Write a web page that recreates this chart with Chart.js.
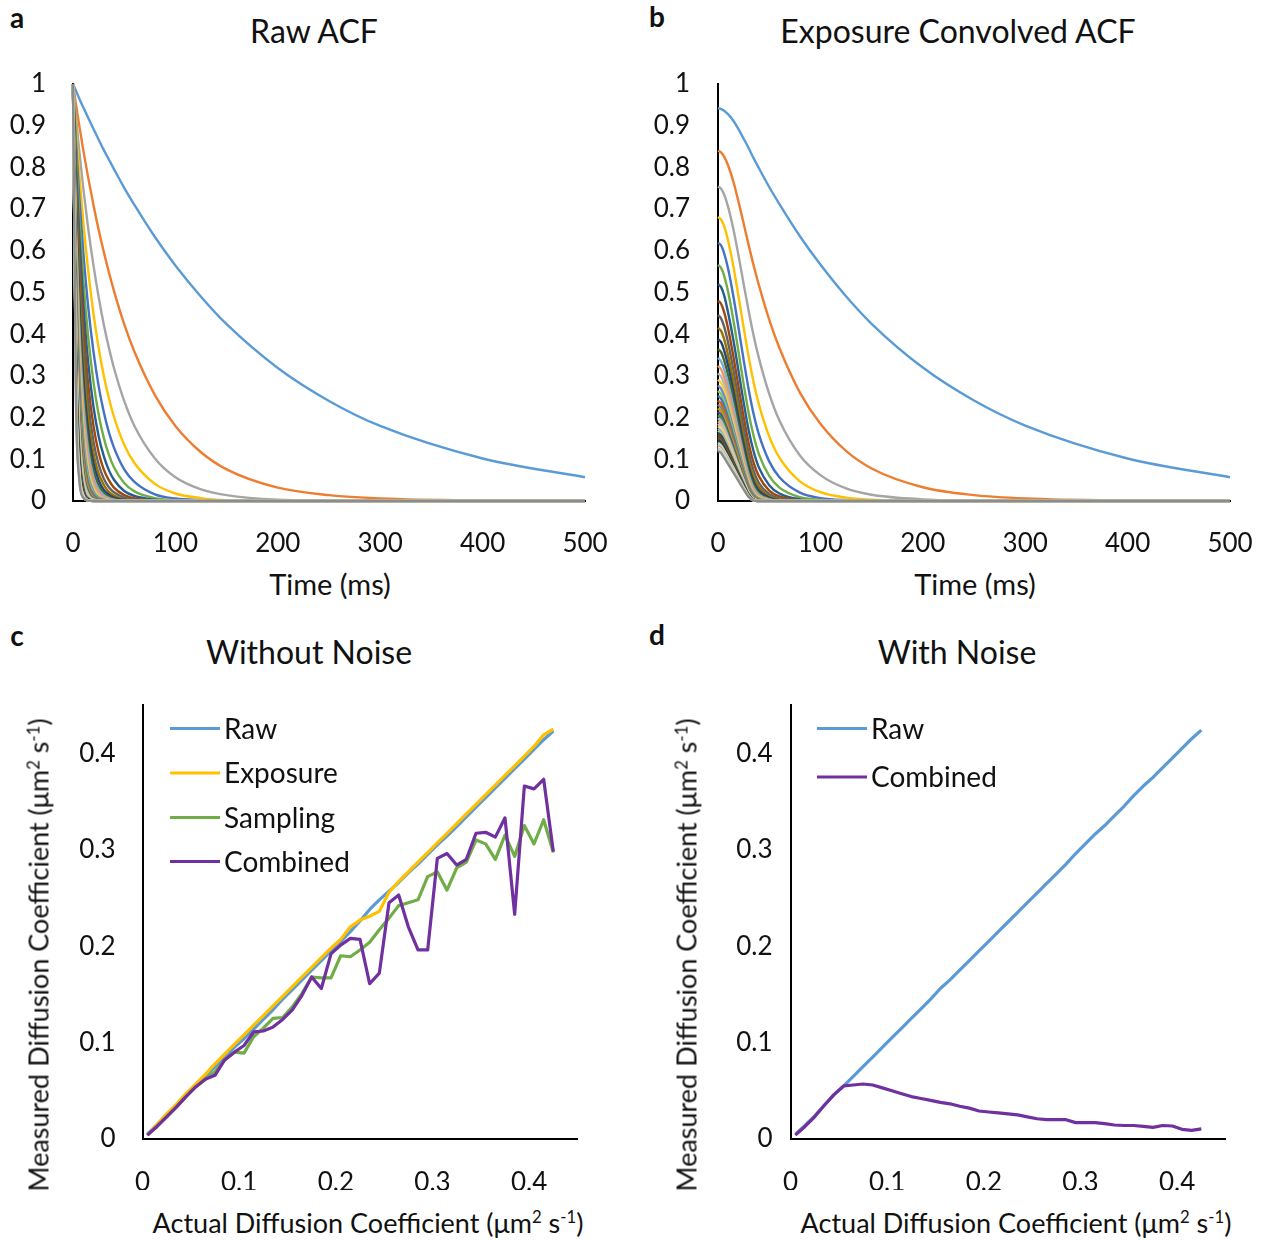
<!DOCTYPE html>
<html><head><meta charset="utf-8">
<script src="https://cdn.jsdelivr.net/npm/chart.js@4.4.1/dist/chart.umd.min.js"></script>
<style>
html,body{margin:0;padding:0;background:#fff;width:1264px;height:1240px;overflow:hidden;font-family:Lato,"Open Sans",sans-serif;color:#111}
canvas{position:absolute}
.t{position:absolute;white-space:nowrap;transform:translate(-50%,-50%);line-height:1;z-index:2}
.t sup{font-size:0.62em;vertical-align:0.55em;line-height:0}
.ttl{font-size:32px}
.ax{font-size:27px}
.tm{font-size:29px}
.let{font-size:28px;font-weight:bold}
.rot{transform:translate(-50%,-50%) rotate(-90deg)}
</style></head><body>
<canvas id="ca" width="620" height="500" style="left:0;top:60px"></canvas>
<canvas id="cb" width="620" height="500" style="left:640px;top:60px"></canvas>
<canvas id="cc" width="620" height="510" style="left:0;top:680px"></canvas>
<canvas id="cd" width="620" height="510" style="left:640px;top:680px"></canvas>

<div class="t let" style="left:17px;top:17px">a</div>
<div class="t let" style="left:657px;top:16px">b</div>
<div class="t let" style="left:17px;top:635px">c</div>
<div class="t let" style="left:657px;top:634px">d</div>
<div class="t ttl" style="left:314px;top:31px">Raw ACF</div>
<div class="t ttl" style="left:958px;top:31px">Exposure Convolved ACF</div>
<div class="t ttl" style="left:309px;top:652px">Without Noise</div>
<div class="t ttl" style="left:957px;top:652px">With Noise</div>
<div class="t tm" style="left:330px;top:583px">Time (ms)</div>
<div class="t tm" style="left:975px;top:583px">Time (ms)</div>
<div class="t ax" style="left:368px;top:1222px">Actual Diffusion Coefficient (μm<sup>2</sup> s<sup>-1</sup>)</div>
<div class="t ax" style="left:1016px;top:1222px">Actual Diffusion Coefficient (μm<sup>2</sup> s<sup>-1</sup>)</div>
<div class="t ax rot" style="left:38px;top:955px">Measured Diffusion Coefficient (μm<sup>2</sup> s<sup>-1</sup>)</div>
<div class="t ax rot" style="left:686px;top:955px">Measured Diffusion Coefficient (μm<sup>2</sup> s<sup>-1</sup>)</div>

<script>
// ---------- data ----------
const acfTimes = [0,3,6,10,15,20,25,30,35,40,50,60,80,100,125,150,200,250,300,400,500];
const acfTimeTicks = [0,100,200,300,400,500];
const acfValueTicks = [0,0.1,0.2,0.3,0.4,0.5,0.6,0.7,0.8,0.9,1];
const diffTicks = [0,0.1,0.2,0.3,0.4];

const actualD = [0.005,0.015,0.025,0.035,0.045,0.055,0.065,0.075,0.085,0.095,
  0.105,0.115,0.125,0.135,0.145,0.155,0.165,0.175,0.185,0.195,
  0.205,0.215,0.225,0.235,0.245,0.255,0.265,0.275,0.285,0.295,
  0.305,0.315,0.325,0.335,0.345,0.355,0.365,0.375,0.385,0.395,
  0.405,0.415,0.425];

// Raw ACF, one row per simulated diffusion coefficient
const rawAcf = [
 [1,.983,.966,.944,.918,.892,.867,.842,.819,.796,.751,.710,.633,.565,.490,.424,.319,.240,.180,.102,.057],
 [1,.950,.902,.842,.773,.710,.651,.598,.549,.504,.424,.358,.254,.180,.117,.076,.032,.014,.006,.001,0],
 [1,.918,.842,.751,.651,.565,.490,.424,.368,.319,.240,.180,.102,.057,.028,.014,.003,.001,0,0,0],
 [1,.887,.787,.670,.549,.449,.368,.301,.247,.202,.135,.091,.041,.018,.007,.002,0,0,0,0,0],
 [1,.857,.734,.598,.462,.358,.276,.214,.165,.128,.076,.046,.016,.006,.002,0,0,0,0,0,0],
 [1,.828,.686,.533,.390,.285,.208,.152,.111,.081,.043,.023,.007,.002,0,0,0,0,0,0,0],
 [1,.800,.640,.476,.328,.226,.156,.108,.074,.051,.024,.012,.003,0,0,0,0,0,0,0,0],
 [1,.773,.598,.424,.276,.180,.117,.076,.050,.032,.014,.006,.001,0,0,0,0,0,0,0,0],
 [1,.747,.558,.379,.233,.143,.088,.054,.033,.021,.008,.003,0,0,0,0,0,0,0,0,0],
 [1,.722,.521,.338,.196,.114,.066,.039,.022,.013,.004,.002,0,0,0,0,0,0,0,0,0],
 [1,.698,.487,.301,.165,.091,.050,.027,.015,.008,.003,0,0,0,0,0,0,0,0,0,0],
 [1,.674,.454,.269,.139,.072,.037,.019,.010,.005,.001,0,0,0,0,0,0,0,0,0,0],
 [1,.651,.424,.240,.117,.057,.028,.014,.007,.003,0,0,0,0,0,0,0,0,0,0,0],
 [1,.629,.396,.214,.099,.046,.021,.010,.005,.002,0,0,0,0,0,0,0,0,0,0,0],
 [1,.608,.370,.191,.083,.036,.016,.007,.003,.001,0,0,0,0,0,0,0,0,0,0,0],
 [1,.588,.345,.170,.070,.029,.012,.005,.002,0,0,0,0,0,0,0,0,0,0,0,0],
 [1,.568,.323,.152,.059,.023,.009,.004,.001,0,0,0,0,0,0,0,0,0,0,0,0],
 [1,.549,.301,.135,.050,.018,.007,.002,.001,0,0,0,0,0,0,0,0,0,0,0,0],
 [1,.530,.281,.121,.042,.015,.005,.002,0,0,0,0,0,0,0,0,0,0,0,0,0],
 [1,.512,.263,.108,.035,.012,.004,.001,0,0,0,0,0,0,0,0,0,0,0,0,0],
 [1,.495,.245,.096,.030,.009,.003,.001,0,0,0,0,0,0,0,0,0,0,0,0,0],
 [1,.479,.229,.086,.025,.007,.002,0,0,0,0,0,0,0,0,0,0,0,0,0,0],
 [1,.462,.214,.076,.021,.006,.002,0,0,0,0,0,0,0,0,0,0,0,0,0,0],
 [1,.447,.200,.068,.018,.005,.001,0,0,0,0,0,0,0,0,0,0,0,0,0,0],
 [1,.432,.186,.061,.015,.004,.001,0,0,0,0,0,0,0,0,0,0,0,0,0,0],
 [1,.417,.174,.054,.013,.003,.001,0,0,0,0,0,0,0,0,0,0,0,0,0,0],
 [1,.403,.162,.048,.011,.003,0,0,0,0,0,0,0,0,0,0,0,0,0,0,0],
 [1,.390,.152,.043,.009,.002,0,0,0,0,0,0,0,0,0,0,0,0,0,0,0],
 [1,.376,.142,.039,.008,.002,0,0,0,0,0,0,0,0,0,0,0,0,0,0,0],
 [1,.364,.132,.034,.006,.001,0,0,0,0,0,0,0,0,0,0,0,0,0,0,0],
 [1,.351,.124,.031,.005,.001,0,0,0,0,0,0,0,0,0,0,0,0,0,0,0],
 [1,.340,.115,.027,.005,.001,0,0,0,0,0,0,0,0,0,0,0,0,0,0,0],
 [1,.328,.108,.024,.004,0,0,0,0,0,0,0,0,0,0,0,0,0,0,0,0],
 [1,.317,.101,.022,.003,0,0,0,0,0,0,0,0,0,0,0,0,0,0,0,0],
 [1,.306,.094,.019,.003,0,0,0,0,0,0,0,0,0,0,0,0,0,0,0,0],
 [1,.296,.088,.017,.002,0,0,0,0,0,0,0,0,0,0,0,0,0,0,0,0],
 [1,.286,.082,.015,.002,0,0,0,0,0,0,0,0,0,0,0,0,0,0,0,0],
 [1,.276,.076,.014,.002,0,0,0,0,0,0,0,0,0,0,0,0,0,0,0,0],
 [1,.267,.071,.012,.001,0,0,0,0,0,0,0,0,0,0,0,0,0,0,0,0],
 [1,.258,.067,.011,.001,0,0,0,0,0,0,0,0,0,0,0,0,0,0,0,0],
 [1,.249,.062,.010,.001,0,0,0,0,0,0,0,0,0,0,0,0,0,0,0,0],
 [1,.241,.058,.009,.001,0,0,0,0,0,0,0,0,0,0,0,0,0,0,0,0],
 [1,.233,.054,.008,.001,0,0,0,0,0,0,0,0,0,0,0,0,0,0,0,0]
];

// Exposure-convolved ACF, same rows
const convAcf = [
 [.942,.940,.936,.927,.912,.892,.869,.846,.821,.798,.753,.712,.635,.567,.491,.425,.320,.241,.181,.102,.057],
 [.840,.836,.826,.804,.766,.718,.666,.613,.563,.517,.435,.367,.260,.185,.120,.078,.033,.014,.006,.001,0],
 [.754,.749,.735,.704,.652,.589,.521,.455,.394,.342,.257,.193,.109,.062,.030,.015,.004,.001,0,0,0],
 [.681,.675,.659,.623,.563,.491,.417,.345,.282,.231,.155,.104,.047,.021,.008,.003,0,0,0,0,0],
 [.619,.613,.594,.556,.491,.416,.339,.267,.206,.159,.095,.057,.020,.007,.002,.001,0,0,0,0,0],
 [.566,.559,.540,.500,.434,.358,.281,.210,.154,.112,.060,.032,.009,.003,.001,0,0,0,0,0,0],
 [.520,.513,.493,.450,.386,.312,.237,.169,.117,.080,.038,.018,.004,.001,0,0,0,0,0,0,0],
 [.480,.473,.453,.412,.347,.275,.202,.138,.090,.059,.025,.011,.002,0,0,0,0,0,0,0,0],
 [.446,.438,.418,.378,.315,.245,.175,.115,.071,.043,.016,.006,.001,0,0,0,0,0,0,0,0],
 [.415,.408,.388,.348,.287,.220,.154,.096,.056,.033,.011,.004,0,0,0,0,0,0,0,0,0],
 [.388,.381,.361,.323,.263,.199,.137,.082,.045,.025,.008,.002,0,0,0,0,0,0,0,0,0],
 [.364,.357,.337,.300,.243,.182,.122,.071,.037,.019,.005,.001,0,0,0,0,0,0,0,0,0],
 [.343,.335,.316,.280,.226,.167,.111,.062,.031,.015,.004,.001,0,0,0,0,0,0,0,0,0],
 [.324,.316,.297,.262,.210,.155,.101,.055,.026,.012,.003,.001,0,0,0,0,0,0,0,0,0],
 [.306,.299,.281,.247,.197,.144,.093,.049,.021,.009,.002,0,0,0,0,0,0,0,0,0,0],
 [.291,.283,.266,.233,.185,.134,.085,.044,.018,.008,.001,0,0,0,0,0,0,0,0,0,0],
 [.277,.269,.252,.220,.174,.126,.079,.039,.016,.006,.001,0,0,0,0,0,0,0,0,0,0],
 [.264,.256,.239,.209,.164,.119,.074,.036,.013,.005,.001,0,0,0,0,0,0,0,0,0,0],
 [.252,.245,.228,.198,.156,.112,.069,.033,.012,.004,0,0,0,0,0,0,0,0,0,0,0],
 [.241,.234,.218,.189,.148,.106,.065,.030,.010,.003,0,0,0,0,0,0,0,0,0,0,0],
 [.231,.224,.208,.180,.141,.101,.062,.028,.009,.003,0,0,0,0,0,0,0,0,0,0,0],
 [.222,.215,.199,.172,.135,.096,.058,.026,.008,.002,0,0,0,0,0,0,0,0,0,0,0],
 [.214,.207,.191,.165,.129,.092,.056,.024,.007,.002,0,0,0,0,0,0,0,0,0,0,0],
 [.206,.199,.184,.158,.123,.088,.053,.022,.006,.002,0,0,0,0,0,0,0,0,0,0,0],
 [.198,.192,.177,.152,.118,.084,.051,.021,.005,.001,0,0,0,0,0,0,0,0,0,0,0],
 [.191,.185,.170,.146,.114,.081,.048,.020,.005,.001,0,0,0,0,0,0,0,0,0,0,0],
 [.185,.178,.164,.141,.109,.078,.046,.019,.004,.001,0,0,0,0,0,0,0,0,0,0,0],
 [.179,.173,.159,.136,.106,.075,.045,.018,.004,.001,0,0,0,0,0,0,0,0,0,0,0],
 [.173,.167,.153,.131,.102,.072,.043,.017,.003,.001,0,0,0,0,0,0,0,0,0,0,0],
 [.168,.162,.148,.127,.098,.070,.041,.016,.003,.001,0,0,0,0,0,0,0,0,0,0,0],
 [.163,.157,.144,.123,.095,.067,.040,.015,.003,.001,0,0,0,0,0,0,0,0,0,0,0],
 [.159,.152,.139,.119,.092,.065,.039,.015,.003,0,0,0,0,0,0,0,0,0,0,0,0],
 [.154,.148,.135,.115,.089,.063,.037,.014,.002,0,0,0,0,0,0,0,0,0,0,0,0],
 [.150,.144,.131,.112,.087,.061,.036,.013,.002,0,0,0,0,0,0,0,0,0,0,0,0],
 [.146,.140,.128,.109,.084,.060,.035,.013,.002,0,0,0,0,0,0,0,0,0,0,0,0],
 [.142,.136,.124,.106,.082,.058,.034,.012,.002,0,0,0,0,0,0,0,0,0,0,0,0],
 [.139,.133,.121,.103,.080,.056,.033,.012,.002,0,0,0,0,0,0,0,0,0,0,0,0],
 [.135,.129,.118,.100,.077,.055,.032,.011,.001,0,0,0,0,0,0,0,0,0,0,0,0],
 [.132,.126,.115,.098,.075,.053,.031,.011,.001,0,0,0,0,0,0,0,0,0,0,0,0],
 [.129,.123,.112,.095,.074,.052,.030,.011,.001,0,0,0,0,0,0,0,0,0,0,0,0],
 [.126,.120,.109,.093,.072,.051,.030,.010,.001,0,0,0,0,0,0,0,0,0,0,0,0],
 [.123,.117,.107,.091,.070,.049,.029,.010,.001,0,0,0,0,0,0,0,0,0,0,0,0],
 [.120,.115,.104,.088,.068,.048,.028,.010,.001,0,0,0,0,0,0,0,0,0,0,0,0]
];

const noNoiseRaw = [0.005,0.015,0.025,0.035,0.045,0.055,0.065,0.075,0.085,0.095,
  0.104,0.114,0.124,0.134,0.145,0.155,0.165,0.175,0.185,0.195,
  0.205,0.215,0.226,0.238,0.248,0.257,0.266,0.276,0.285,0.295,
  0.305,0.314,0.324,0.334,0.344,0.354,0.364,0.374,0.384,0.394,
  0.404,0.414,0.423];
const noNoiseExposure = [0.004,0.015,0.026,0.036,0.047,0.057,0.067,0.078,0.088,0.098,
  0.108,0.118,0.128,0.138,0.148,0.158,0.168,0.178,0.188,0.198,
  0.207,0.220,0.227,0.231,0.236,0.256,0.267,0.277,0.287,0.297,
  0.307,0.317,0.327,0.337,0.347,0.357,0.367,0.377,0.387,0.397,
  0.407,0.419,0.425];
const noNoiseSampling = [0.004,0.013,0.023,0.033,0.044,0.054,0.062,0.070,0.082,0.090,
  0.089,0.106,0.115,0.125,0.126,0.137,0.151,0.168,0.167,0.167,
  0.190,0.189,0.196,0.204,0.217,0.229,0.242,0.245,0.248,0.272,
  0.277,0.258,0.281,0.287,0.310,0.306,0.290,0.315,0.293,0.325,
  0.306,0.331,0.297];
const noNoiseCombined = [0.004,0.013,0.023,0.033,0.044,0.054,0.062,0.066,0.082,0.090,
  0.097,0.111,0.112,0.116,0.124,0.134,0.149,0.168,0.156,0.192,
  0.201,0.208,0.207,0.161,0.172,0.245,0.253,0.220,0.196,0.196,
  0.291,0.296,0.284,0.290,0.317,0.318,0.313,0.333,0.233,0.366,
  0.363,0.373,0.298];
const noiseRaw = [0.005,0.014,0.024,0.035,0.046,0.055,0.065,0.075,0.085,0.095,
  0.105,0.115,0.125,0.135,0.145,0.156,0.165,0.175,0.185,0.195,
  0.205,0.215,0.225,0.235,0.245,0.255,0.265,0.275,0.285,0.296,
  0.306,0.316,0.325,0.335,0.345,0.356,0.366,0.375,0.385,0.395,
  0.405,0.415,0.424];
const noiseCombined = [0.004,0.013,0.023,0.035,0.046,0.055,0.056,0.057,0.056,0.053,
  0.050,0.047,0.044,0.042,0.040,0.038,0.0365,0.034,0.032,0.029,
  0.028,0.027,0.026,0.025,0.023,0.021,0.020,0.020,0.020,0.017,
  0.017,0.017,0.016,0.0145,0.014,0.014,0.013,0.012,0.014,0.0135,
  0.010,0.009,0.0105];

// ---------- styles ----------
const acfPalette = ['#5B9BD5','#ED7D31','#A5A5A5','#FFC000','#4472C4','#70AD47','#255E91','#9E480E','#636363','#997300','#264478','#43682B','#7CAFDD','#F1975A','#B7B7B7','#FFCD33','#698ED0','#8CC168','#327DC2','#D26012','#848484','#CC9A00','#335AA1','#5A8A39','#9DC3E6','#F4B183','#C9C9C9','#FFD966','#8FAADC','#A9D18E','#1F4E79','#843C0C','#525252','#7F6000','#203864','#385723','#BDD7EE','#F8CBAD','#A5A5A5','#FFE699','#B4C7E7','#C5E0B4','#8C8C8C'];
const seriesColors = {Raw:'#5B9BD5', Exposure:'#FFC000', Sampling:'#70AD47', Combined:'#7030A0'};

Chart.defaults.font.family = 'Lato, "Open Sans", sans-serif';
Chart.defaults.color = '#111';

const insideLegend = {
  id: 'insideLegend',
  afterDraw(chart, args, opts) {
    if (!opts || !opts.rows) return;
    const ctx = chart.ctx;
    ctx.save();
    chart.data.datasets.forEach((ds, i) => {
      const y = opts.rows[i];
      ctx.strokeStyle = ds.borderColor; ctx.lineWidth = 3; ctx.lineCap = 'butt';
      ctx.beginPath(); ctx.moveTo(opts.x0, y); ctx.lineTo(opts.x1, y); ctx.stroke();
      ctx.fillStyle = '#111'; ctx.font = '28px Lato, "Open Sans", sans-serif';
      ctx.textBaseline = 'middle'; ctx.textAlign = 'left';
      ctx.fillText(ds.label, opts.x1 + 4, y + 1);
    });
    ctx.restore();
  }
};

const fmt = v => String(+Number(v).toFixed(2));

function makeChart(id, datasets, o) {
  return new Chart(document.getElementById(id), {
    type: 'line',
    data: { datasets },
    options: {
      responsive: false, animation: false, devicePixelRatio: 1,
      layout: { autoPadding: false, padding: { top: o.padTop, right: o.padRight, left: 0, bottom: 0 } },
      plugins: { legend: { display: false }, tooltip: { enabled: false }, insideLegend: o.legend || false },
      elements: { point: { radius: 0 } },
      scales: {
        x: {
          type: 'linear', min: o.xMin, max: o.xMax,
          grid: { display: false, drawTicks: false },
          border: { display: true, color: '#000', width: 2 },
          ticks: { padding: o.xPad, font: { size: 26 }, color: '#111', autoSkip: false, maxRotation: 0, callback: fmt },
          afterBuildTicks: s => { s.ticks = o.xTicks.map(v => ({ value: v })); },
          afterFit: s => { s.height = o.xHeight; s.paddingLeft = 0; s.paddingRight = 0; }
        },
        y: {
          type: 'linear', min: o.yMin, max: o.yMax,
          grid: { display: false, drawTicks: false },
          border: { display: true, color: '#000', width: 2 },
          ticks: { padding: o.yPad, font: { size: 26 }, color: '#111', autoSkip: false, callback: fmt },
          afterBuildTicks: s => { s.ticks = o.yTicks.map(v => ({ value: v })); },
          afterFit: s => { s.width = o.yWidth; s.paddingTop = 0; s.paddingBottom = 0; }
        }
      }
    },
    plugins: [insideLegend]
  });
}

function acfSets(rows) {
  return rows.map((vals, i) => ({
    label: 'D = ' + actualD[i],
    data: vals.map((v, j) => ({ x: acfTimes[j], y: v })),
    borderColor: acfPalette[i % acfPalette.length],
    borderWidth: 2.4, pointRadius: 0, fill: false,
    cubicInterpolationMode: 'monotone',
    order: rows.length - i, clip: 4
  }));
}
function diffSets(list) {
  return list.map(([label, vals], i) => ({
    label,
    data: vals.map((v, j) => ({ x: actualD[j], y: v })),
    borderColor: seriesColors[label], borderWidth: 3.2, pointRadius: 0, fill: false,
    tension: 0, order: list.length - i, clip: 4, borderJoinStyle: 'round'
  }));
}

const acfOpts = { xMin: 0, xMax: 500, yMin: 0, yMax: 1, xTicks: acfTimeTicks, yTicks: acfValueTicks,
  padTop: 24, xHeight: 59, xPad: 27, yPad: 27 };

makeChart('ca', acfSets(rawAcf), Object.assign({}, acfOpts, { yWidth: 73, padRight: 35 }));
makeChart('cb', acfSets(convAcf), Object.assign({}, acfOpts, { yWidth: 78, padRight: 30, yPad: 28 }));

const diffOpts = { xMin: 0, xMax: 0.45, yMin: 0, yMax: 0.45, xTicks: diffTicks, yTicks: diffTicks,
  padTop: 25, xHeight: 51, xPad: 28 };

makeChart('cc', diffSets([['Raw', noNoiseRaw], ['Exposure', noNoiseExposure], ['Sampling', noNoiseSampling], ['Combined', noNoiseCombined]]),
  Object.assign({}, diffOpts, { yWidth: 142.5, padRight: 42.5, yPad: 27,
    legend: { x0: 170, x1: 220, rows: [48.5, 93, 137.5, 181.5] } }));
makeChart('cd', diffSets([['Raw', noiseRaw], ['Combined', noiseCombined]]),
  Object.assign({}, diffOpts, { yWidth: 150.5, padRight: 34.5, yPad: 18,
    legend: { x0: 177, x1: 227, rows: [48.5, 97] } }));
</script>
</body></html>
